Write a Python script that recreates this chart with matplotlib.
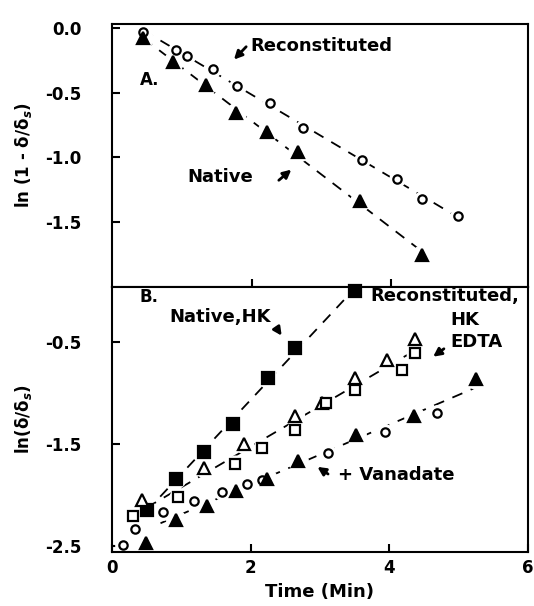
import numpy as np
import matplotlib
matplotlib.use("Agg")
import matplotlib.pyplot as plt

# Panel A: ln(1 - d/ds) vs time
a_recon_t = [0.45, 0.92, 1.07, 1.45, 1.79, 2.26, 2.73, 3.58, 4.08, 4.44, 4.96]
a_recon_y = [-0.03, -0.17, -0.22, -0.32, -0.45, -0.58, -0.77, -1.02, -1.17, -1.32, -1.45]
a_native_t = [0.45, 0.88, 1.34, 1.77, 2.22, 2.66, 3.55, 4.44]
a_native_y = [-0.08, -0.26, -0.44, -0.66, -0.80, -0.96, -1.34, -1.75]

# Panel B: ln(d/ds) vs time
b_native_hk_t = [0.50, 0.92, 1.33, 1.75, 2.25, 2.64, 3.50]
b_native_hk_y = [-2.15, -1.84, -1.58, -1.30, -0.85, -0.56, 0.0]
b_recon_hk_t = [0.43, 1.33, 1.91, 2.64, 3.03, 3.50, 3.97, 4.37]
b_recon_hk_y = [-2.05, -1.74, -1.50, -1.23, -1.10, -0.85, -0.68, -0.47]
b_edta_t = [0.31, 0.95, 1.78, 2.17, 2.64, 3.09, 3.50, 4.19, 4.37]
b_edta_y = [-2.21, -2.02, -1.70, -1.54, -1.36, -1.10, -0.97, -0.77, -0.61]
b_van_circ_t = [0.16, 0.33, 0.74, 1.19, 1.59, 1.95, 2.17, 3.12, 3.94, 4.69]
b_van_circ_y = [-2.49, -2.33, -2.17, -2.06, -1.97, -1.89, -1.85, -1.59, -1.38, -1.20]
b_van_tri_t = [0.49, 0.92, 1.37, 1.79, 2.24, 2.68, 3.52, 4.35, 5.25]
b_van_tri_y = [-2.47, -2.25, -2.11, -1.96, -1.84, -1.67, -1.41, -1.23, -0.86]

plt.rcParams['font.family'] = 'DejaVu Sans'
plt.rcParams['font.weight'] = 'bold'

fig = plt.figure(figsize=(5.34, 6.06), dpi=100)
axA = fig.add_axes([0.2097, 0.5264, 0.779, 0.434])
axB = fig.add_axes([0.2097, 0.0891, 0.779, 0.4373])

dash = (6, 5)


def fit_line(ax, t, y, x0=None, x1=None):
    k, b = np.polyfit(t, y, 1)
    x0 = min(t) if x0 is None else x0
    x1 = max(t) if x1 is None else x1
    xs = np.array([x0, x1])
    ax.plot(xs, k * xs + b, color='black', lw=1.3, dashes=dash, zorder=1)


def points(ax, t, y, marker, filled, ms):
    # white halo so the line breaks around each mark
    ax.plot(t, y, ls='none', marker='o', ms=ms + 5, mfc='white', mec='white', zorder=2, clip_on=False)
    ax.plot(t, y, ls='none', marker=marker, ms=ms, mfc='black' if filled else 'white',
            mec='black', mew=1.6, zorder=3, clip_on=False)


arrow = dict(arrowstyle='-|>', color='black', lw=2, mutation_scale=12)

# ---- panel A ----
fit_line(axA, a_recon_t, a_recon_y)
fit_line(axA, a_native_t, a_native_y)
points(axA, a_recon_t, a_recon_y, 'o', False, 6)
points(axA, a_native_t, a_native_y, '^', True, 9)

axA.text(0.40, -0.40, 'A.', fontsize=12, fontweight='bold', va='center')
axA.text(1.99, -0.14, 'Reconstituted', fontsize=13, fontweight='bold', va='center')
axA.annotate('', xy=(1.72, -0.26), xytext=(1.95, -0.13), arrowprops=arrow)
axA.text(1.08, -1.15, 'Native', fontsize=13, fontweight='bold', va='center')
axA.annotate('', xy=(2.60, -1.08), xytext=(2.36, -1.19), arrowprops=arrow)

axA.set_xlim(0, 5.96)
axA.set_ylim(-2.0, 0.03)
axA.set_yticks([0.0, -0.5, -1.0, -1.5])
axA.set_yticklabels(['0.0', '-0.5', '-1.0', '-1.5'])
axA.set_xticks([2, 4])
axA.set_xticklabels([])
axA.set_ylabel('ln (1 - δ/δ$_s$)', fontsize=12, fontweight='bold', labelpad=8)

# ---- panel B ----
fit_line(axB, b_native_hk_t, b_native_hk_y)
fit_line(axB, b_recon_hk_t + b_edta_t, b_recon_hk_y + b_edta_y, 0.5, 4.4)
fit_line(axB, b_van_circ_t + b_van_tri_t, b_van_circ_y + b_van_tri_y, 0.7, 5.25)
points(axB, b_native_hk_t, b_native_hk_y, 's', True, 8)
points(axB, b_recon_hk_t, b_recon_hk_y, '^', False, 8)
points(axB, b_edta_t, b_edta_y, 's', False, 7)
points(axB, b_van_circ_t, b_van_circ_y, 'o', False, 6)
points(axB, b_van_tri_t, b_van_tri_y, '^', True, 9)

axB.text(0.40, -0.06, 'B.', fontsize=12, fontweight='bold', va='center')
axB.text(0.83, -0.25, 'Native,HK', fontsize=13, fontweight='bold', va='center')
axB.annotate('', xy=(2.47, -0.46), xytext=(2.35, -0.34), arrowprops=arrow)
axB.text(3.72, -0.05, 'Reconstituted,', fontsize=13, fontweight='bold', va='center')
axB.text(4.88, -0.28, 'HK', fontsize=13, fontweight='bold', va='center')
axB.text(4.88, -0.50, 'EDTA', fontsize=13, fontweight='bold', va='center')
axB.annotate('', xy=(4.60, -0.66), xytext=(4.82, -0.55), arrowprops=arrow)
axB.text(3.26, -1.80, '+ Vanadate', fontsize=13, fontweight='bold', va='center')
axB.annotate('', xy=(2.93, -1.71), xytext=(3.15, -1.81), arrowprops=arrow)

axB.set_xlim(0, 5.96)
axB.set_ylim(-2.56, 0.04)
axB.set_yticks([-0.5, -1.5, -2.5])
axB.set_yticklabels(['-0.5', '-1.5', '-2.5'])
axB.set_xticks([0, 2, 4, 6])
axB.set_xticklabels(['0', '2', '4', '6'])
axB.set_xlabel('Time (Min)', fontsize=13, fontweight='bold', labelpad=4)
axB.set_ylabel('ln(δ/δ$_s$)', fontsize=12, fontweight='bold', labelpad=8)

for ax in (axA, axB):
    for s in ax.spines.values():
        s.set_linewidth(1.5)
    ax.tick_params(direction='in', length=6, width=1.5, labelsize=12)
    ax.tick_params(axis='y', pad=22)
    ax.tick_params(axis='x', pad=5)
    for lab in ax.get_xticklabels() + ax.get_yticklabels():
        lab.set_fontweight('bold')

fig.savefig('out.png', dpi=100)
